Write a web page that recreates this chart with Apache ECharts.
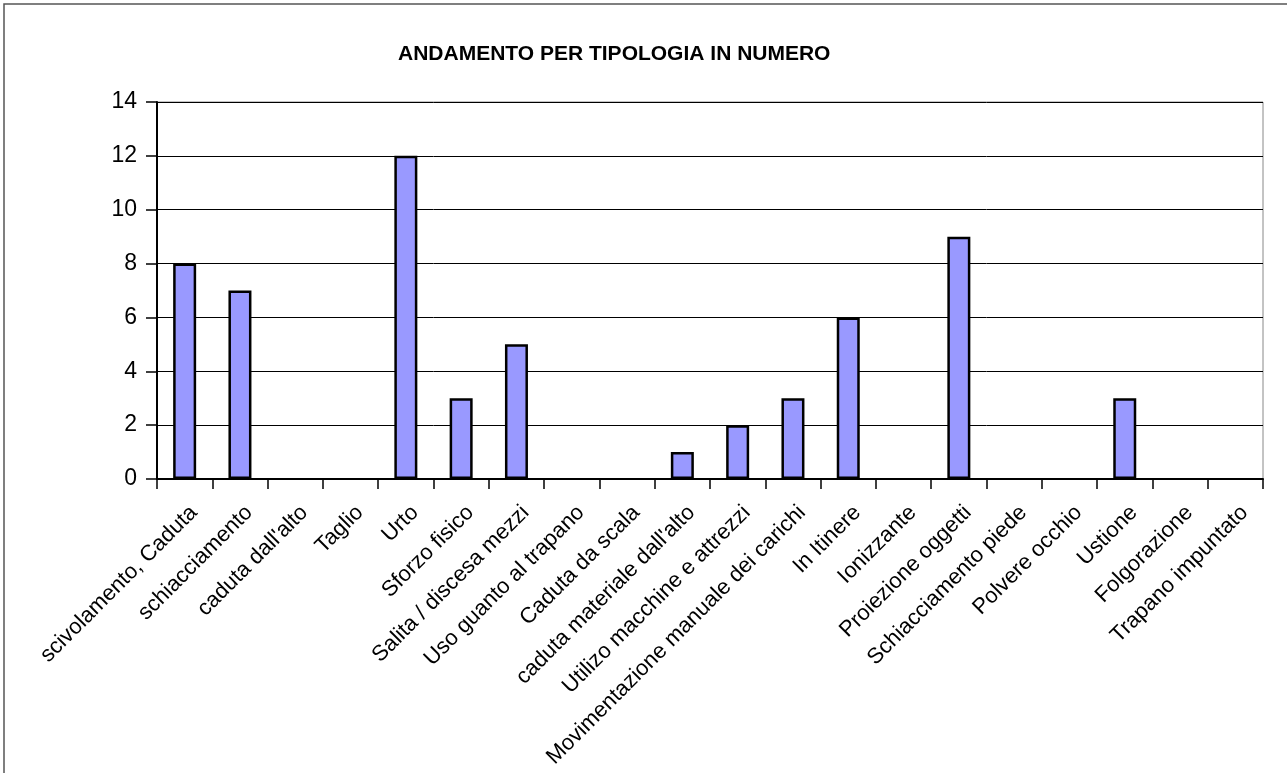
<!DOCTYPE html>
<html>
<head>
<meta charset="utf-8">
<script src="https://cdn.jsdelivr.net/npm/echarts@6/dist/echarts.min.js"></script>
<style>
  body { margin: 0; background: #fff; }
  #chart { width: 1287px; height: 773px; }
</style>
</head>
<body>
<div id="chart"></div>
<script>
var categories = [
    "scivolamento, Caduta", "schiacciamento", "caduta dall'alto", "Taglio", "Urto",
    "Sforzo fisico", "Salita / discesa mezzi", "Uso guanto al trapano", "Caduta da scala",
    "caduta materiale dall'alto", "Utilizo macchine e attrezzi", "Movimentazione manuale dei carichi",
    "In Itinere", "Ionizzante", "Proiezione oggetti", "Schiacciamento piede", "Polvere occhio",
    "Ustione", "Folgorazione", "Trapano impuntato"
];
var counts = [8, 7, 0, 0, 12, 3, 5, 0, 0, 1, 2, 3, 6, 0, 9, 0, 0, 3, 0, 0];
var yTicks = [0, 2, 4, 6, 8, 10, 12, 14];

var chart = echarts.init(document.getElementById('chart'));

// zero counts draw no bar (avoid a flat outline on the axis)
var barData = counts.map(function (v) { return v === 0 ? '-' : v; });

var option = {
    animation: false,
    textStyle: { fontFamily: 'Liberation Sans, Arial, sans-serif' },
    title: {
        text: 'ANDAMENTO PER TIPOLOGIA IN NUMERO',
        left: 393,
        top: 39,
        textStyle: { fontSize: 21, fontWeight: 'bold', color: '#000', fontFamily: 'Liberation Sans, Arial, sans-serif' }
    },
    graphic: [{
        type: 'rect',
        shape: { x: 4, y: 4, width: 1300, height: 800 },
        style: { fill: 'none', stroke: '#555', lineWidth: 1.5 },
        silent: true
    }],
    grid: {
        left: 157, right: 24, top: 102, bottom: 294,
        show: true, borderColor: '#888', borderWidth: 1
    },
    xAxis: {
        type: 'category',
        data: categories,
        boundaryGap: true,
        axisLine: { lineStyle: { color: '#000', width: 2 } },
        axisTick: { show: true, length: 10, lineStyle: { color: '#000', width: 1.5 } },
        axisLabel: {
            interval: 0, rotate: 45, margin: 21,
            verticalAlign: 'top', lineHeight: 26,
            fontSize: 22, color: '#000'
        }
    },
    yAxis: {
        type: 'value',
        min: yTicks[0],
        max: yTicks[yTicks.length - 1],
        interval: 2,
        axisLine: { show: true, lineStyle: { color: '#000', width: 2 } },
        axisTick: { show: true, length: 11, lineStyle: { color: '#000', width: 1.5 } },
        axisLabel: { fontSize: 23, color: '#000', margin: 20 },
        splitLine: { show: true, lineStyle: { color: '#000', width: 1 } }
    },
    series: [{
        type: 'bar',
        data: barData,
        barWidth: 23,
        itemStyle: { color: '#9999FF', borderColor: '#000', borderWidth: 2.5 }
    }]
};

chart.setOption(option);
</script>
</body>
</html>
